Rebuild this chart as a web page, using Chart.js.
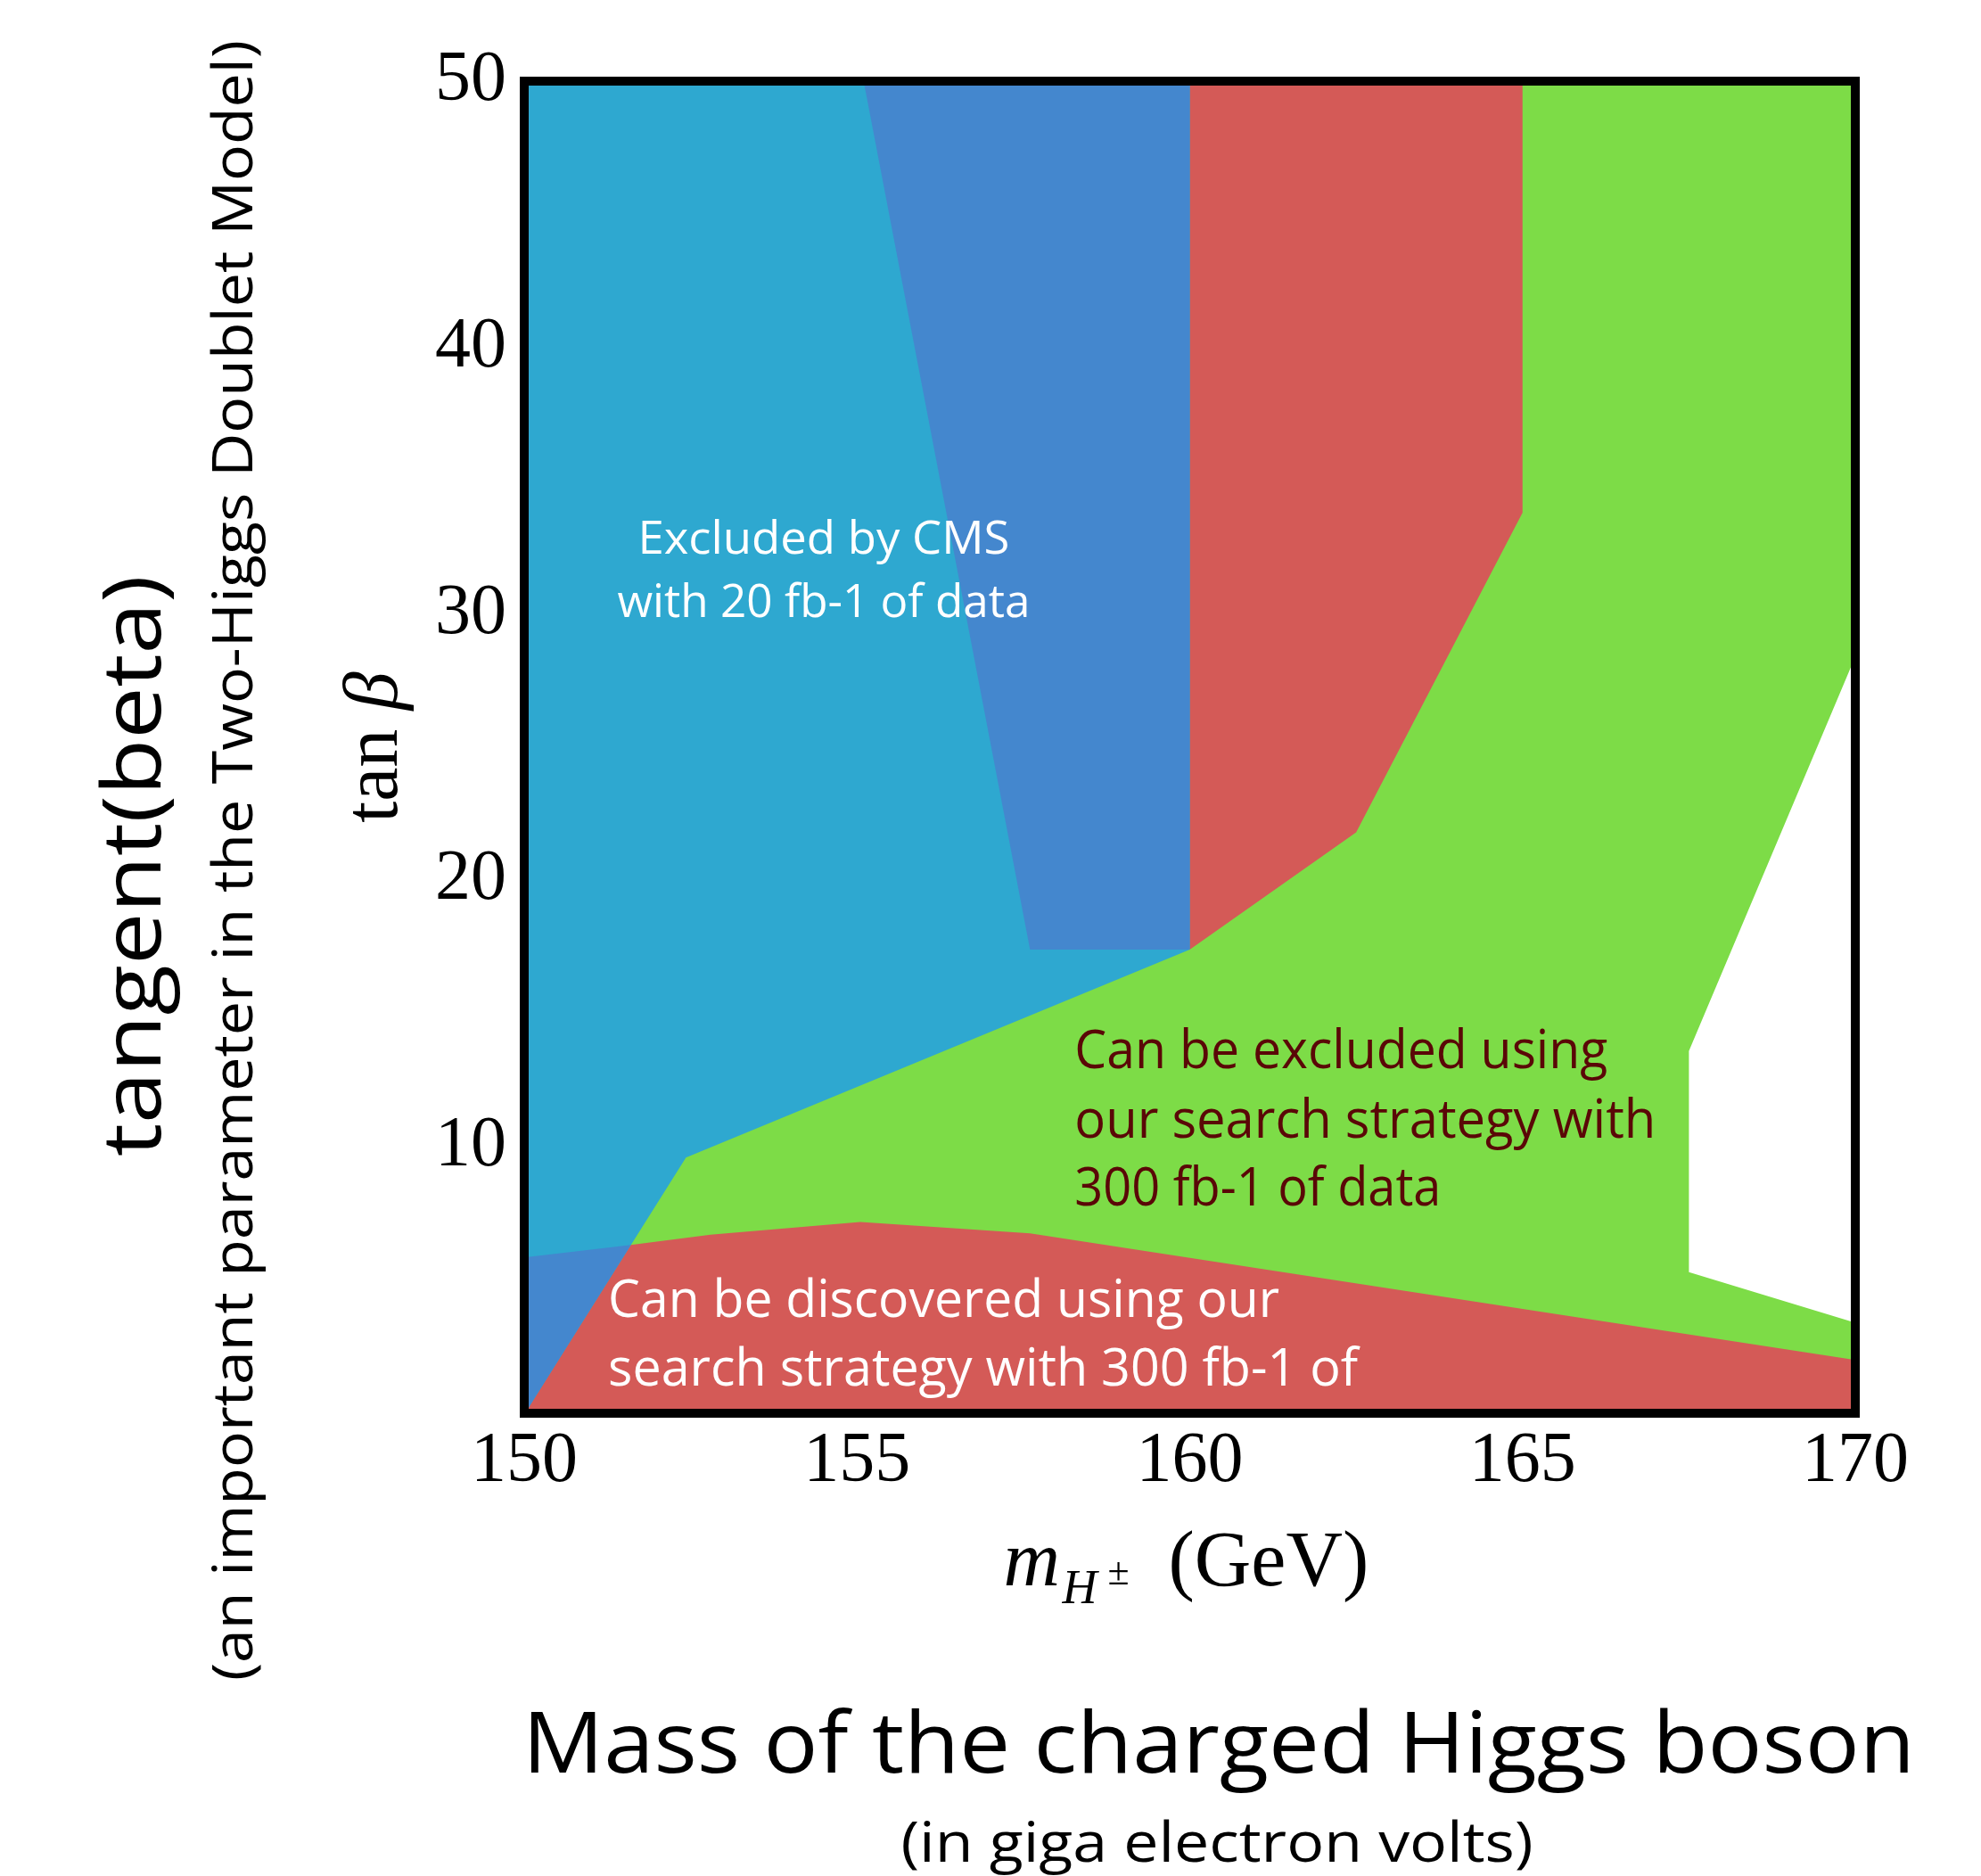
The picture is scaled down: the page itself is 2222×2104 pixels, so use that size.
<!DOCTYPE html>
<html>
<head>
<meta charset="utf-8">
<title>Charged Higgs reach in tan beta</title>
<script src="https://cdn.jsdelivr.net/npm/chart.js@4.4.1/dist/chart.umd.min.js"></script>
<style>
  html, body { margin: 0; padding: 0; background: #fff; }
  #wrap { width: 2222px; height: 2104px; }
</style>
</head>
<body>
<div id="wrap"><canvas id="chart"></canvas></div>
<script>
// tick labels
const xTickLabels = ['150', '155', '160', '165', '170'];
const yTickLabels = ['', '10', '20', '30', '40', '50'];

// regions (x = mass in GeV, y = tan beta)
// green: can be excluded with 300 fb-1
const exclX = [150, 150, 170, 170, 167.5, 167.5, 170, 170];
const exclY = [0, 50, 50, 28.4, 13.6, 5.3, 3.4, 0];
// red, upper part: can be discovered with 300 fb-1
const discUpX = [155.1, 165, 165, 162.5, 160, 157.6];
const discUpY = [50, 50, 33.8, 21.8, 17.4, 17.4];
// red, lower part
const discLowX = [150, 150, 151.6, 152.8, 155.05, 157.6, 170, 170];
const discLowY = [0, 5.85, 6.32, 6.7, 7.18, 6.75, 2.0, 0];
// cyan: excluded by CMS with 20 fb-1
const cmsX = [150, 160, 160, 152.43, 150.05, 150];
const cmsY = [50, 50, 17.4, 9.6, 0.15, 0.15];
// blue: CMS region overlapping the red ones
const overUpX = [155.1, 160, 160, 157.6];
const overUpY = [50, 50, 17.4, 17.4];
const overLowX = [150, 151.6, 150.05, 150];
const overLowY = [5.85, 6.32, 0.15, 0.15];

const GREEN = '#7ddc47';
const RED = '#d45a57';
const CYAN = '#2ea8d0';
const BLUE = '#4487ce';

const SANS = '"Open Sans", "Noto Sans", sans-serif';
const SERIF = '"Liberation Serif", "DejaVu Serif", serif';

function pts(xs, ys) {
  return xs.map((x, i) => ({ x: x, y: ys[i] }));
}

// bottom layer first
const layers = [
  { label: 'excluded 300', xs: exclX, ys: exclY, color: GREEN },
  { label: 'discovered upper', xs: discUpX, ys: discUpY, color: RED },
  { label: 'discovered lower', xs: discLowX, ys: discLowY, color: RED },
  { label: 'CMS', xs: cmsX, ys: cmsY, color: CYAN },
  { label: 'overlap upper', xs: overUpX, ys: overUpY, color: BLUE },
  { label: 'overlap lower', xs: overLowX, ys: overLowY, color: BLUE }
];

const datasets = layers.map((l, i) => ({
  label: l.label,
  data: pts(l.xs, l.ys),
  showLine: true,
  fill: 'shape',
  backgroundColor: l.color,
  borderColor: l.color,
  borderWidth: 0,
  pointRadius: 0,
  order: layers.length - i
}));

// squeeze text to the width it has in the picture
function fitText(ctx, text, x, y, width, align) {
  const w = ctx.measureText(text).width;
  ctx.save();
  ctx.translate(x, y);
  ctx.scale(width / w, 1);
  ctx.textAlign = align;
  ctx.fillText(text, 0, 0);
  ctx.restore();
}

const labelsPlugin = {
  id: 'labels',
  afterDraw(chart) {
    const ctx = chart.ctx;
    const a = chart.chartArea;
    const sx = chart.scales.x;
    const sy = chart.scales.y;
    const cx = (a.left + a.right) / 2;
    const cy = (a.top + a.bottom) / 2;

    ctx.save();
    ctx.textBaseline = 'alphabetic';

    // notes inside the plot
    ctx.fillStyle = '#ffffff';
    ctx.font = '52px ' + SANS;
    fitText(ctx, 'Excluded by CMS', sx.getPixelForValue(154.5), sy.getPixelForValue(32.26), 417, 'center');
    fitText(ctx, 'with 20 fb-1 of data', sx.getPixelForValue(154.5), sy.getPixelForValue(29.89), 463, 'center');

    ctx.fillStyle = '#5a0707';
    ctx.font = '60px ' + SANS;
    const gx = sx.getPixelForValue(158.27);
    fitText(ctx, 'Can be excluded using', gx, sy.getPixelForValue(12.95), 598, 'left');
    fitText(ctx, 'our search strategy with', gx, sy.getPixelForValue(10.34), 652, 'left');
    fitText(ctx, '300 fb-1 of data', gx, sy.getPixelForValue(7.8), 411, 'left');

    ctx.fillStyle = '#ffffff';
    ctx.font = '59px ' + SANS;
    const rx = sx.getPixelForValue(151.26);
    fitText(ctx, 'Can be discovered using our', rx, sy.getPixelForValue(3.61), 753, 'left');
    fitText(ctx, 'search strategy with 300 fb-1 of', rx, sy.getPixelForValue(1.04), 841, 'left');

    // frame
    ctx.strokeStyle = '#000';
    ctx.lineWidth = 10;
    ctx.strokeRect(a.left, a.top, a.right - a.left, a.bottom - a.top);

    ctx.fillStyle = '#000';

    // x axis title: m_{H±} (GeV)
    const x0 = cx - 209;
    ctx.textAlign = 'left';
    ctx.font = 'italic 88px ' + SERIF;
    ctx.fillText('m', x0, 1778);
    ctx.font = 'italic 54px ' + SERIF;
    ctx.fillText('H', x0 + 66, 1798);
    ctx.font = '44px ' + SERIF;
    ctx.fillText('\u00b1', x0 + 117, 1777);
    ctx.font = '88px ' + SERIF;
    ctx.fillText('(GeV)', x0 + 185, 1778);

    // y axis title: tan beta
    ctx.save();
    ctx.translate(445, cy);
    ctx.rotate(-Math.PI / 2);
    ctx.font = '86px ' + SERIF;
    const wTan = ctx.measureText('tan ').width;
    ctx.font = 'italic 86px ' + SERIF;
    const wBeta = ctx.measureText('\u03b2').width;
    const start = -(wTan + wBeta) / 2;
    ctx.font = '86px ' + SERIF;
    ctx.fillText('tan ', start, 0);
    ctx.font = 'italic 86px ' + SERIF;
    ctx.fillText('\u03b2', start + wTan, 0);
    ctx.restore();

    // plain-language titles
    ctx.font = '95px ' + SANS;
    fitText(ctx, 'Mass of the charged Higgs boson', 1367, 1988, 1562, 'center');
    ctx.font = '62px ' + SANS;
    fitText(ctx, '(in giga electron volts)', 1365, 2088, 709, 'center');

    ctx.save();
    ctx.translate(180, 971);
    ctx.rotate(-Math.PI / 2);
    ctx.font = '92px ' + SANS;
    fitText(ctx, 'tangent(beta)', 0, 0, 652, 'center');
    ctx.restore();

    ctx.save();
    ctx.translate(283, 965);
    ctx.rotate(-Math.PI / 2);
    ctx.font = '62px ' + SANS;
    fitText(ctx, '(an important parameter in the Two-Higgs Doublet Model)', 0, 0, 1840, 'center');
    ctx.restore();

    ctx.restore();
  }
};

new Chart(document.getElementById('chart'), {
  type: 'scatter',
  data: { datasets: datasets },
  options: {
    responsive: true,
    maintainAspectRatio: false,
    animation: false,
    layout: { padding: { left: 0, top: 91, right: 141, bottom: 0 } },
    plugins: {
      legend: { display: false },
      tooltip: { enabled: false },
      filler: { propagate: false }
    },
    scales: {
      x: {
        type: 'linear',
        min: 150,
        max: 170,
        grid: { display: false, drawTicks: false },
        border: { display: false },
        ticks: {
          stepSize: 5,
          autoSkip: false,
          maxRotation: 0,
          padding: 7,
          color: '#000',
          font: { family: SERIF, size: 80 },
          callback: (v, i) => xTickLabels[i]
        },
        afterFit: (scale) => { scale.height = 519; }
      },
      y: {
        type: 'linear',
        min: 0,
        max: 50,
        grid: { display: false, drawTicks: false },
        border: { display: false },
        ticks: {
          stepSize: 10,
          padding: 20,
          color: '#000',
          font: { family: SERIF, size: 80 },
          callback: (v, i) => yTickLabels[i]
        },
        afterFit: (scale) => { scale.width = 588; }
      }
    }
  },
  plugins: [labelsPlugin]
});
</script>
</body>
</html>
